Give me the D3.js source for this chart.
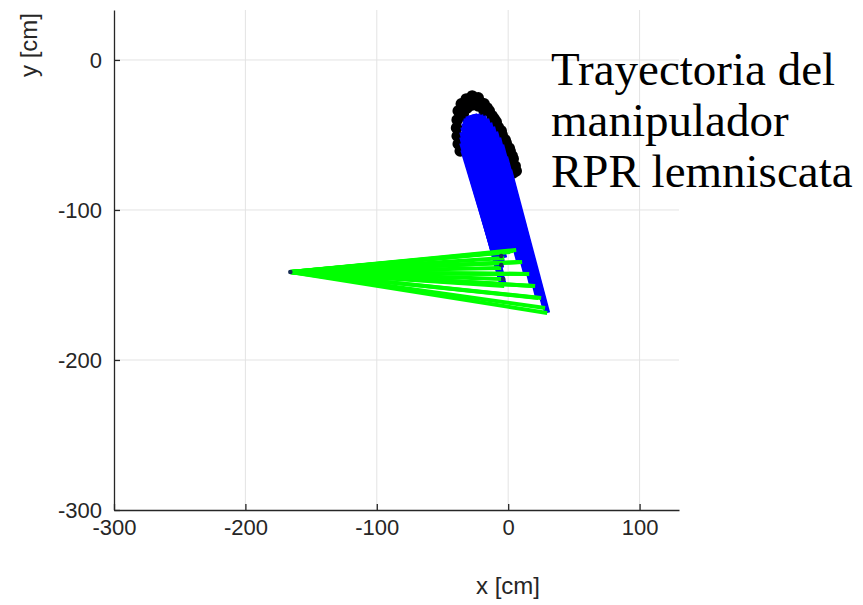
<!DOCTYPE html>
<html>
<head>
<meta charset="utf-8">
<script src="https://cdn.jsdelivr.net/npm/d3@7"></script>
<style>
  body { margin: 0; background: #fff; }
  svg { display: block; }
  .tick-label { font-family: "Liberation Sans", Arial, sans-serif; font-size: 22px; fill: #262626; }
</style>
</head>
<body>
<div id="chart"></div>
<script>
// RPR manipulator drawing a lemniscate (cm)

var xTicks = [-300, -200, -100, 0, 100];
var yTicks = [0, -100, -200, -300];

// fixed base of the first (prismatic) link
var baseX = [-165.8];
var baseY = [-141.3];

// second joint for every drawn pose
var jointX = [29.7, 28.1, 25.1, 22.8, 20.5, 18.3, 16.0, 13.7, 10.6, 8.4, 6.1, 3.8, 1.5, -1.5, -3.0, -4.6, -5.3, -5.3, -5.3, -4.6, -3.8, -3.0];
var jointY = [-168.7, -165.3, -158.7, -158.7, -150.7, -150.7, -142.7, -142.7, -134.7, -134.7, -126.7, -127.3, -128.0, -128.0, -132.0, -135.3, -138.7, -142.7, -146.0, -149.3, -150.0, -150.7];

// end effector for every drawn pose
var effX = [0.8, -2.3, -5.3, -7.6, -9.9, -12.2, -14.4, -16.7, -19.0, -21.3, -23.6, -25.9, -28.1, -30.4, -31.9, -32.7, -33.5, -34.2, -35.0, -35.0, -35.0, -34.2];
var effY = [-73.3, -64.7, -56.7, -52.0, -48.0, -44.7, -42.0, -39.3, -37.3, -36.7, -36.0, -36.0, -36.7, -37.3, -38.7, -40.0, -42.0, -44.7, -48.0, -51.3, -55.3, -60.0];

// lemniscate trajectory markers
var trajX = [-27.4, -31.9, -35.7, -38.0, -38.8, -39.3, -38.8, -38.0, -36.5,
             -22.8, -18.3, -14.4, -10.6, -7.6, -4.6, -1.5, 1.5, 3.8, 5.3, 3.8,
             -27.4, -31.2, -22.8, -34.2, -18.3, -25.1, -29.7, -33.5, -20.5, -16.0, -12.2, -35.7,
             -9.1, -5.3, -2.3, 0.8, 3.0, 6.1];
var trajY = [-24.0, -26.0, -29.3, -34.0, -40.0, -45.3, -50.7, -56.0, -60.7,
             -25.3, -29.3, -34.0, -39.3, -44.7, -50.0, -55.3, -60.7, -66.0, -70.7, -75.3,
             -30.0, -32.0, -30.7, -36.0, -34.0, -26.7, -28.0, -31.3, -28.7, -32.0, -37.3, -37.3,
             -41.3, -47.3, -53.3, -58.7, -64.0, -74.0];

// small dark points left where the links overlap
var darkX = [-5.3, -5.3, -3.8];
var darkY = [-130.7, -136.7, -146.0];

var titleLines = ["Trayectoria del", "manipulador", "RPR lemniscata"];

var width = 863;
var height = 605;

var xScale = d3.scaleLinear().domain([-300, 130]).range([114, 679]);
var yScale = d3.scaleLinear().domain([-300, 33.3]).range([510, 10]);

var svg = d3.select("#chart")
  .append("svg")
  .attr("width", width)
  .attr("height", height);

// grid
svg.append("g")
  .selectAll("line")
  .data(xTicks.slice(1))
  .enter()
  .append("line")
  .attr("x1", d => xScale(d))
  .attr("x2", d => xScale(d))
  .attr("y1", yScale.range()[0])
  .attr("y2", yScale.range()[1])
  .attr("stroke", "#e3e3e3")
  .attr("stroke-width", 1);

svg.append("g")
  .selectAll("line")
  .data(yTicks.slice(0, 3))
  .enter()
  .append("line")
  .attr("x1", xScale.range()[0])
  .attr("x2", xScale.range()[1])
  .attr("y1", d => yScale(d))
  .attr("y2", d => yScale(d))
  .attr("stroke", "#e3e3e3")
  .attr("stroke-width", 1);

// trajectory
svg.append("g")
  .selectAll("circle")
  .data(trajX)
  .enter()
  .append("circle")
  .attr("cx", (d) => xScale(d))
  .attr("cy", (d, i) => yScale(trajY[i]))
  .attr("r", 5.8)
  .attr("fill", "#000");

// second link
svg.append("g")
  .selectAll("line")
  .data(jointX)
  .enter()
  .append("line")
  .attr("x1", (d) => xScale(d))
  .attr("y1", (d, i) => yScale(jointY[i]))
  .attr("x2", (d, i) => xScale(effX[i]))
  .attr("y2", (d, i) => yScale(effY[i]))
  .attr("stroke", "#0000ff")
  .attr("stroke-width", 6);

// first link
svg.append("g")
  .selectAll("line")
  .data(jointX)
  .enter()
  .append("line")
  .attr("x1", xScale(baseX[0]))
  .attr("y1", yScale(baseY[0]))
  .attr("x2", (d) => xScale(d))
  .attr("y2", (d, i) => yScale(jointY[i]))
  .attr("stroke", "#00ff00")
  .attr("stroke-width", 4);

svg.append("g")
  .selectAll("circle")
  .data(darkX.concat(baseX))
  .enter()
  .append("circle")
  .attr("cx", (d) => xScale(d))
  .attr("cy", (d, i) => yScale(darkY.concat(baseY)[i]))
  .attr("r", 2.3)
  .attr("fill", "#1a2f55");

// axes
var xAxis = d3.axisBottom(xScale).tickValues(xTicks).tickFormat(d => String(d))
  .tickSize(-6).tickPadding(9).tickSizeOuter(0);
var yAxis = d3.axisLeft(yScale).tickValues(yTicks).tickFormat(d => String(d))
  .tickSize(-6).tickPadding(12).tickSizeOuter(0);

var gx = svg.append("g")
  .attr("transform", "translate(0," + yScale.range()[0] + ")")
  .call(xAxis);

var gy = svg.append("g")
  .attr("transform", "translate(" + xScale.range()[0] + ",0)")
  .call(yAxis);

[gx, gy].forEach(function(g) {
  g.select(".domain").attr("stroke", "#262626").attr("stroke-width", 1.3);
  g.selectAll(".tick line").attr("stroke", "#262626").attr("stroke-width", 1.3);
  g.selectAll(".tick text").attr("class", "tick-label").attr("fill", null);
});
gx.selectAll(".tick text").attr("dy", "0.71em");

svg.append("text")
  .attr("class", "tick-label")
  .attr("x", 508)
  .attr("y", 594)
  .attr("text-anchor", "middle")
  .style("font-size", "24px")
  .text("x [cm]");

svg.append("text")
  .attr("class", "tick-label")
  .attr("transform", "translate(37,45) rotate(-90)")
  .attr("text-anchor", "middle")
  .style("font-size", "24px")
  .text("y [cm]");

svg.append("text")
  .attr("x", 551)
  .attr("y", 85)
  .style("font-family", "'Liberation Serif', 'Times New Roman', serif")
  .style("font-size", "47px")
  .attr("fill", "#000")
  .selectAll("tspan")
  .data(titleLines)
  .enter()
  .append("tspan")
  .attr("x", 551)
  .attr("dy", (d, i) => i == 0 ? 0 : 51)
  .text(d => d);
</script>
</body>
</html>
